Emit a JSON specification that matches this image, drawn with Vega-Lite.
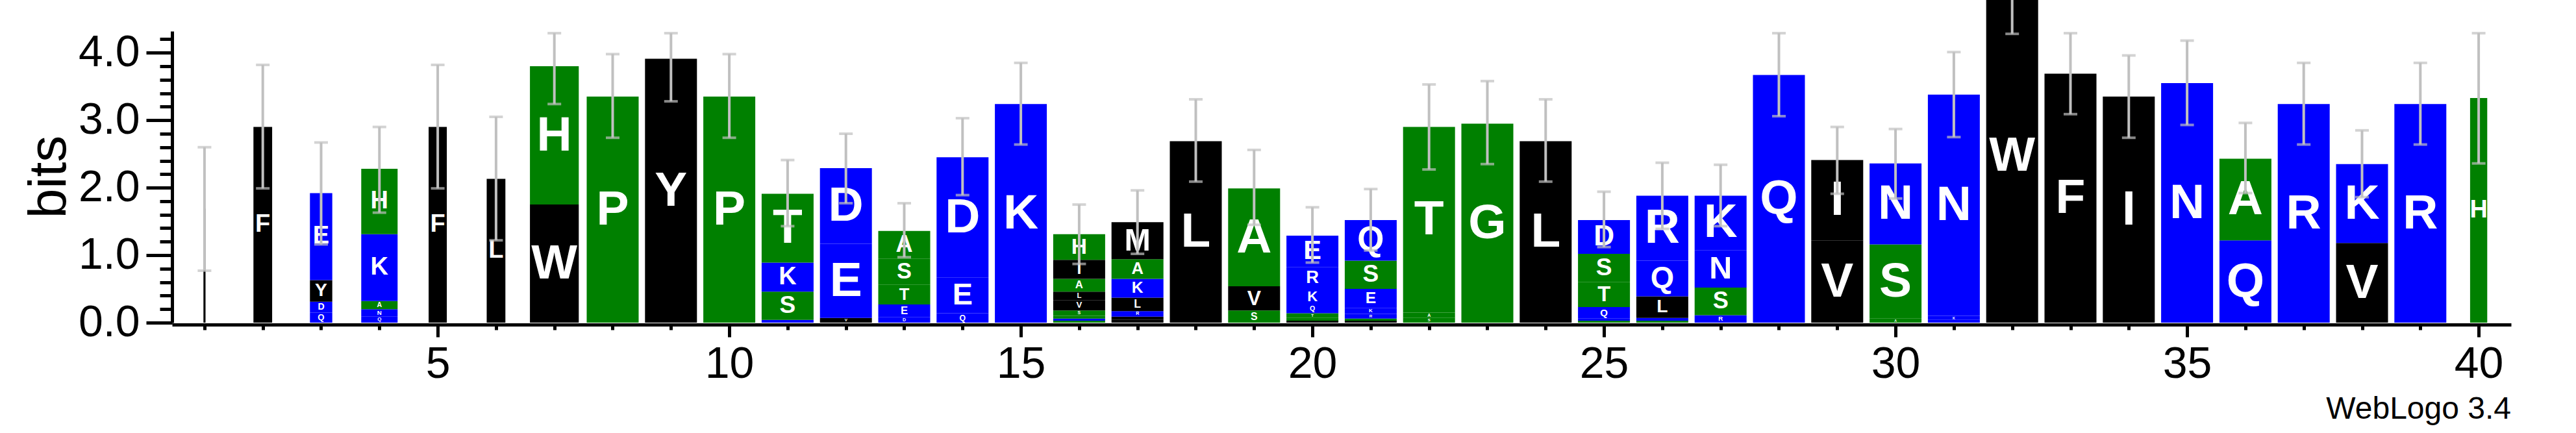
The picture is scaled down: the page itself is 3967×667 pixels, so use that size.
{
  "$schema": "https://vega.github.io/schema/vega-lite/v6.json",
  "width": 3602,
  "height": 449,
  "autosize": {"type": "none"},
  "padding": {"left": 265, "top": 48, "right": 100, "bottom": 170},
  "background": "white",
  "config": {
    "view": {"stroke": null},
    "font": "Liberation Sans",
    "axis": {
      "grid": false,
      "domainColor": "black",
      "domainWidth": 5,
      "tickColor": "black",
      "tickWidth": 5,
      "labelColor": "black",
      "labelFont": "Liberation Sans",
      "labelFontSize": 68,
      "titleFont": "Liberation Sans",
      "titleColor": "black"
    }
  },
  "title": {
    "text": "WebLogo 3.4",
    "orient": "bottom",
    "anchor": "end",
    "frame": "group",
    "fontSize": 48,
    "fontWeight": "normal",
    "font": "Liberation Sans",
    "color": "black",
    "offset": 12
  },
  "datasets": {
    "letters": [
      {"pos": 1, "aa": "M", "h": 1.69, "o": 1, "w": 0.04},
      {"pos": 2, "aa": "F", "h": 2.90, "o": 1, "w": 0.36},
      {"pos": 3, "aa": "Q", "h": 0.15, "o": 1, "w": 0.43},
      {"pos": 3, "aa": "D", "h": 0.16, "o": 2, "w": 0.43},
      {"pos": 3, "aa": "Y", "h": 0.32, "o": 3, "w": 0.43},
      {"pos": 3, "aa": "E", "h": 1.29, "o": 4, "w": 0.43},
      {"pos": 4, "aa": "Q", "h": 0.09, "o": 1, "w": 0.70},
      {"pos": 4, "aa": "N", "h": 0.11, "o": 2, "w": 0.70},
      {"pos": 4, "aa": "A", "h": 0.12, "o": 3, "w": 0.70},
      {"pos": 4, "aa": "K", "h": 0.99, "o": 4, "w": 0.70},
      {"pos": 4, "aa": "H", "h": 0.97, "o": 5, "w": 0.70},
      {"pos": 5, "aa": "F", "h": 2.90, "o": 1, "w": 0.35},
      {"pos": 6, "aa": "L", "h": 2.13, "o": 1, "w": 0.36},
      {"pos": 7, "aa": "W", "h": 1.75, "o": 1, "w": 0.94},
      {"pos": 7, "aa": "H", "h": 2.05, "o": 2, "w": 0.94},
      {"pos": 8, "aa": "P", "h": 3.35, "o": 1, "w": 1},
      {"pos": 9, "aa": "Y", "h": 3.91, "o": 1, "w": 1},
      {"pos": 10, "aa": "P", "h": 3.35, "o": 1, "w": 1},
      {"pos": 11, "aa": "E", "h": 0.04, "o": 1, "w": 1},
      {"pos": 11, "aa": "S", "h": 0.42, "o": 2, "w": 1},
      {"pos": 11, "aa": "K", "h": 0.43, "o": 3, "w": 1},
      {"pos": 11, "aa": "T", "h": 1.02, "o": 4, "w": 1},
      {"pos": 12, "aa": "V", "h": 0.07, "o": 1, "w": 1},
      {"pos": 12, "aa": "E", "h": 1.10, "o": 2, "w": 1},
      {"pos": 12, "aa": "D", "h": 1.12, "o": 3, "w": 1},
      {"pos": 13, "aa": "D", "h": 0.08, "o": 1, "w": 1},
      {"pos": 13, "aa": "E", "h": 0.19, "o": 2, "w": 1},
      {"pos": 13, "aa": "T", "h": 0.29, "o": 3, "w": 1},
      {"pos": 13, "aa": "S", "h": 0.39, "o": 4, "w": 1},
      {"pos": 13, "aa": "A", "h": 0.41, "o": 5, "w": 1},
      {"pos": 14, "aa": "Q", "h": 0.14, "o": 1, "w": 1},
      {"pos": 14, "aa": "E", "h": 0.53, "o": 2, "w": 1},
      {"pos": 14, "aa": "D", "h": 1.78, "o": 3, "w": 1},
      {"pos": 15, "aa": "K", "h": 3.24, "o": 1, "w": 1},
      {"pos": 16, "aa": "G", "h": 0.03, "o": 1, "w": 1},
      {"pos": 16, "aa": "E", "h": 0.03, "o": 2, "w": 1},
      {"pos": 16, "aa": "T", "h": 0.04, "o": 3, "w": 1},
      {"pos": 16, "aa": "S", "h": 0.08, "o": 4, "w": 1},
      {"pos": 16, "aa": "V", "h": 0.15, "o": 5, "w": 1},
      {"pos": 16, "aa": "L", "h": 0.13, "o": 6, "w": 1},
      {"pos": 16, "aa": "A", "h": 0.19, "o": 7, "w": 1},
      {"pos": 16, "aa": "I", "h": 0.28, "o": 8, "w": 1},
      {"pos": 16, "aa": "H", "h": 0.38, "o": 9, "w": 1},
      {"pos": 17, "aa": "V", "h": 0.04, "o": 1, "w": 1},
      {"pos": 17, "aa": "I", "h": 0.05, "o": 2, "w": 1},
      {"pos": 17, "aa": "R", "h": 0.08, "o": 3, "w": 1},
      {"pos": 17, "aa": "L", "h": 0.20, "o": 4, "w": 1},
      {"pos": 17, "aa": "K", "h": 0.28, "o": 5, "w": 1},
      {"pos": 17, "aa": "A", "h": 0.29, "o": 6, "w": 1},
      {"pos": 17, "aa": "M", "h": 0.55, "o": 7, "w": 1},
      {"pos": 18, "aa": "L", "h": 2.69, "o": 1, "w": 1},
      {"pos": 19, "aa": "S", "h": 0.18, "o": 1, "w": 1},
      {"pos": 19, "aa": "V", "h": 0.36, "o": 2, "w": 1},
      {"pos": 19, "aa": "A", "h": 1.45, "o": 3, "w": 1},
      {"pos": 20, "aa": "L", "h": 0.03, "o": 1, "w": 1},
      {"pos": 20, "aa": "S", "h": 0.04, "o": 2, "w": 1},
      {"pos": 20, "aa": "T", "h": 0.07, "o": 3, "w": 1},
      {"pos": 20, "aa": "Q", "h": 0.12, "o": 4, "w": 1},
      {"pos": 20, "aa": "K", "h": 0.25, "o": 5, "w": 1},
      {"pos": 20, "aa": "R", "h": 0.31, "o": 6, "w": 1},
      {"pos": 20, "aa": "E", "h": 0.47, "o": 7, "w": 1},
      {"pos": 21, "aa": "L", "h": 0.03, "o": 1, "w": 1},
      {"pos": 21, "aa": "G", "h": 0.03, "o": 2, "w": 1},
      {"pos": 21, "aa": "R", "h": 0.07, "o": 3, "w": 1},
      {"pos": 21, "aa": "K", "h": 0.09, "o": 4, "w": 1},
      {"pos": 21, "aa": "E", "h": 0.28, "o": 5, "w": 1},
      {"pos": 21, "aa": "S", "h": 0.42, "o": 6, "w": 1},
      {"pos": 21, "aa": "Q", "h": 0.60, "o": 7, "w": 1},
      {"pos": 22, "aa": "S", "h": 0.07, "o": 1, "w": 1},
      {"pos": 22, "aa": "A", "h": 0.08, "o": 2, "w": 1},
      {"pos": 22, "aa": "T", "h": 2.75, "o": 3, "w": 1},
      {"pos": 23, "aa": "G", "h": 2.95, "o": 1, "w": 1},
      {"pos": 24, "aa": "L", "h": 2.69, "o": 1, "w": 1},
      {"pos": 25, "aa": "G", "h": 0.03, "o": 1, "w": 1},
      {"pos": 25, "aa": "E", "h": 0.03, "o": 2, "w": 1},
      {"pos": 25, "aa": "Q", "h": 0.17, "o": 3, "w": 1},
      {"pos": 25, "aa": "T", "h": 0.37, "o": 4, "w": 1},
      {"pos": 25, "aa": "S", "h": 0.42, "o": 5, "w": 1},
      {"pos": 25, "aa": "D", "h": 0.50, "o": 6, "w": 1},
      {"pos": 26, "aa": "S", "h": 0.03, "o": 1, "w": 1},
      {"pos": 26, "aa": "K", "h": 0.04, "o": 2, "w": 1},
      {"pos": 26, "aa": "L", "h": 0.32, "o": 3, "w": 1},
      {"pos": 26, "aa": "Q", "h": 0.53, "o": 4, "w": 1},
      {"pos": 26, "aa": "R", "h": 0.96, "o": 5, "w": 1},
      {"pos": 27, "aa": "R", "h": 0.11, "o": 1, "w": 1},
      {"pos": 27, "aa": "S", "h": 0.41, "o": 2, "w": 1},
      {"pos": 27, "aa": "N", "h": 0.55, "o": 3, "w": 1},
      {"pos": 27, "aa": "K", "h": 0.81, "o": 4, "w": 1},
      {"pos": 28, "aa": "Q", "h": 3.67, "o": 1, "w": 1},
      {"pos": 29, "aa": "V", "h": 1.22, "o": 1, "w": 1},
      {"pos": 29, "aa": "I", "h": 1.19, "o": 2, "w": 1},
      {"pos": 30, "aa": "A", "h": 0.06, "o": 1, "w": 1},
      {"pos": 30, "aa": "S", "h": 1.10, "o": 2, "w": 1},
      {"pos": 30, "aa": "N", "h": 1.20, "o": 3, "w": 1},
      {"pos": 31, "aa": "D", "h": 0.04, "o": 1, "w": 1},
      {"pos": 31, "aa": "K", "h": 0.06, "o": 2, "w": 1},
      {"pos": 31, "aa": "N", "h": 3.28, "o": 3, "w": 1},
      {"pos": 32, "aa": "W", "h": 4.95, "o": 1, "w": 1},
      {"pos": 33, "aa": "F", "h": 3.69, "o": 1, "w": 1},
      {"pos": 34, "aa": "I", "h": 3.35, "o": 1, "w": 1},
      {"pos": 35, "aa": "N", "h": 3.55, "o": 1, "w": 1},
      {"pos": 36, "aa": "Q", "h": 1.22, "o": 1, "w": 1},
      {"pos": 36, "aa": "A", "h": 1.21, "o": 2, "w": 1},
      {"pos": 37, "aa": "R", "h": 3.24, "o": 1, "w": 1},
      {"pos": 38, "aa": "V", "h": 1.18, "o": 1, "w": 1},
      {"pos": 38, "aa": "K", "h": 1.17, "o": 2, "w": 1},
      {"pos": 39, "aa": "R", "h": 3.24, "o": 1, "w": 1},
      {"pos": 40, "aa": "H", "h": 3.33, "o": 1, "w": 0.33}
    ],
    "errs": [
      {"pos": 1, "lo": 0.77, "hi": 2.60},
      {"pos": 2, "lo": 1.99, "hi": 3.82},
      {"pos": 3, "lo": 1.16, "hi": 2.67},
      {"pos": 4, "lo": 1.63, "hi": 2.90},
      {"pos": 5, "lo": 1.99, "hi": 3.82},
      {"pos": 6, "lo": 1.22, "hi": 3.05},
      {"pos": 7, "lo": 3.24, "hi": 4.29},
      {"pos": 8, "lo": 2.74, "hi": 3.98},
      {"pos": 9, "lo": 3.28, "hi": 4.29},
      {"pos": 10, "lo": 2.74, "hi": 3.98},
      {"pos": 11, "lo": 1.43, "hi": 2.41},
      {"pos": 12, "lo": 1.77, "hi": 2.80},
      {"pos": 13, "lo": 0.97, "hi": 1.77},
      {"pos": 14, "lo": 1.89, "hi": 3.03},
      {"pos": 15, "lo": 2.64, "hi": 3.85},
      {"pos": 16, "lo": 0.87, "hi": 1.75},
      {"pos": 17, "lo": 1.02, "hi": 1.96},
      {"pos": 18, "lo": 2.09, "hi": 3.31},
      {"pos": 19, "lo": 1.45, "hi": 2.56},
      {"pos": 20, "lo": 0.89, "hi": 1.71},
      {"pos": 21, "lo": 1.07, "hi": 1.98},
      {"pos": 22, "lo": 2.27, "hi": 3.53},
      {"pos": 23, "lo": 2.35, "hi": 3.58},
      {"pos": 24, "lo": 2.09, "hi": 3.31},
      {"pos": 25, "lo": 1.12, "hi": 1.94},
      {"pos": 26, "lo": 1.39, "hi": 2.37},
      {"pos": 27, "lo": 1.43, "hi": 2.34},
      {"pos": 28, "lo": 3.06, "hi": 4.29},
      {"pos": 29, "lo": 1.91, "hi": 2.90},
      {"pos": 30, "lo": 1.84, "hi": 2.87},
      {"pos": 31, "lo": 2.75, "hi": 4.01},
      {"pos": 32, "lo": 4.28, "hi": 5.60},
      {"pos": 33, "lo": 3.09, "hi": 4.29},
      {"pos": 34, "lo": 2.74, "hi": 3.96},
      {"pos": 35, "lo": 2.93, "hi": 4.18},
      {"pos": 36, "lo": 1.92, "hi": 2.96},
      {"pos": 37, "lo": 2.64, "hi": 3.85},
      {"pos": 38, "lo": 1.86, "hi": 2.85},
      {"pos": 39, "lo": 2.64, "hi": 3.85},
      {"pos": 40, "lo": 2.36, "hi": 4.29}
    ]
  },
  "resolve": {
    "scale": {"size": "independent"},
    "axis": {"x": "independent", "y": "independent"}
  },
  "layer": [
    {
      "data": {"name": "letters"},
      "transform": [
        {"stack": "h", "groupby": ["pos"], "sort": [{"field": "o", "order": "ascending"}], "as": ["b0", "b1"]}
      ],
      "mark": {"type": "bar"},
      "encoding": {
        "x": {
          "field": "pos", "type": "quantitative",
          "scale": {"domain": [0.5, 40.5], "nice": false, "zero": false},
          "axis": {
            "orient": "bottom", "values": [5, 10, 15, 20, 25, 30, 35, 40],
            "tickSize": 19, "labelPadding": 8, "offset": 3, "title": null,
            "labelFlush": false, "labelOverlap": false
          }
        },
        "y": {
          "field": "b0", "type": "quantitative",
          "scale": {"domain": [0, 4.32], "nice": false, "zero": true},
          "axis": {
            "orient": "left", "values": [0, 1, 2, 3, 4], "format": ".1f",
            "tickSize": 40, "labelPadding": 10, "labelFlush": false, "labelOverlap": false,
            "title": "bits", "titleFontSize": 82, "titleFontWeight": "normal",
            "titleX": -165, "titleY": 224, "titleBaseline": "alphabetic", "titleAngle": -90, "titleAlign": "center"
          }
        },
        "y2": {"field": "b1"},
        "size": {"field": "w", "type": "quantitative", "scale": {"domain": [0, 1], "range": [0, 80]}, "legend": null},
        "color": {
          "field": "aa", "type": "nominal", "legend": null,
          "scale": {
            "domain": ["R", "K", "D", "E", "N", "Q", "S", "G", "H", "T", "A", "P", "Y", "V", "M", "C", "L", "F", "I", "W"],
            "range": ["#0000ff", "#0000ff", "#0000ff", "#0000ff", "#0000ff", "#0000ff", "#008000", "#008000", "#008000", "#008000", "#008000", "#008000", "#000000", "#000000", "#000000", "#000000", "#000000", "#000000", "#000000", "#000000"]
          }
        }
      }
    },
    {
      "data": {"name": "letters"},
      "transform": [
        {"stack": "h", "groupby": ["pos"], "sort": [{"field": "o", "order": "ascending"}], "as": ["b0", "b1"]},
        {"filter": {"and": [{"field": "h", "gte": 0.06}, {"field": "w", "gte": 0.9}]}},
        {"fold": ["b0", "b1"], "as": ["edge", "v"]},
        {"aggregate": [{"op": "mean", "field": "v", "as": "mid"}], "groupby": ["pos", "aa", "h", "o"]}
      ],
      "mark": {"type": "text", "color": "white", "fontWeight": "bold", "font": "Liberation Sans", "align": "center", "baseline": "middle"},
      "encoding": {
        "x": {
          "field": "pos", "type": "quantitative",
          "scale": {"domain": [0.5, 40.5], "nice": false, "zero": false},
          "axis": {
            "orient": "bottom", "values": [1, 2, 3, 4, 5, 6, 7, 8, 9, 10, 11, 12, 13, 14, 15, 16, 17, 18, 19, 20, 21, 22, 23, 24, 25, 26, 27, 28, 29, 30, 31, 32, 33, 34, 35, 36, 37, 38, 39, 40],
            "tickSize": 8, "labels": false, "domain": false, "offset": 3, "title": null
          }
        },
        "y": {
          "field": "mid", "type": "quantitative",
          "scale": {"domain": [0, 4.32], "nice": false, "zero": true},
          "axis": {
            "orient": "left", "values": [0, 0.2, 0.4, 0.6, 0.8, 1, 1.2, 1.4, 1.6, 1.8, 2, 2.2, 2.4, 2.6, 2.8, 3, 3.2, 3.4, 3.6, 3.8, 4, 4.2],
            "tickSize": 19, "labels": false, "domain": false, "title": null
          }
        },
        "text": {"field": "aa", "type": "nominal"},
        "size": {"field": "h", "type": "quantitative", "scale": {"domain": [0, 0.85], "range": [0, 75], "clamp": true}, "legend": null}
      }
    },
    {
      "data": {"name": "letters"},
      "transform": [
        {"stack": "h", "groupby": ["pos"], "sort": [{"field": "o", "order": "ascending"}], "as": ["b0", "b1"]},
        {"filter": {"and": [{"field": "h", "gte": 0.06}, {"field": "w", "lt": 0.9}, {"field": "w", "gte": 0.2}]}},
        {"fold": ["b0", "b1"], "as": ["edge", "v"]},
        {"aggregate": [{"op": "mean", "field": "v", "as": "mid"}], "groupby": ["pos", "aa", "h", "o"]}
      ],
      "mark": {"type": "text", "color": "white", "fontWeight": "bold", "font": "Liberation Sans", "align": "center", "baseline": "middle"},
      "encoding": {
        "x": {"field": "pos", "type": "quantitative", "scale": {"domain": [0.5, 40.5], "nice": false, "zero": false}, "axis": null},
        "y": {"field": "mid", "type": "quantitative", "scale": {"domain": [0, 4.32], "nice": false, "zero": true}, "axis": null},
        "text": {"field": "aa", "type": "nominal"},
        "size": {"field": "h", "type": "quantitative", "scale": {"domain": [0, 0.43], "range": [0, 38], "clamp": true}, "legend": null}
      }
    },
    {
      "data": {"name": "errs"},
      "mark": {
        "type": "errorbar",
        "color": "#c0c0c0",
        "ticks": {"size": 21, "thickness": 4, "color": "#c0c0c0"},
        "rule": {"strokeWidth": 4, "color": "#c0c0c0"}
      },
      "encoding": {
        "x": {"field": "pos", "type": "quantitative", "scale": {"domain": [0.5, 40.5], "nice": false, "zero": false}, "axis": null},
        "y": {"field": "lo", "type": "quantitative", "scale": {"domain": [0, 4.32], "nice": false, "zero": true}, "axis": null},
        "y2": {"field": "hi"}
      }
    }
  ]
}
